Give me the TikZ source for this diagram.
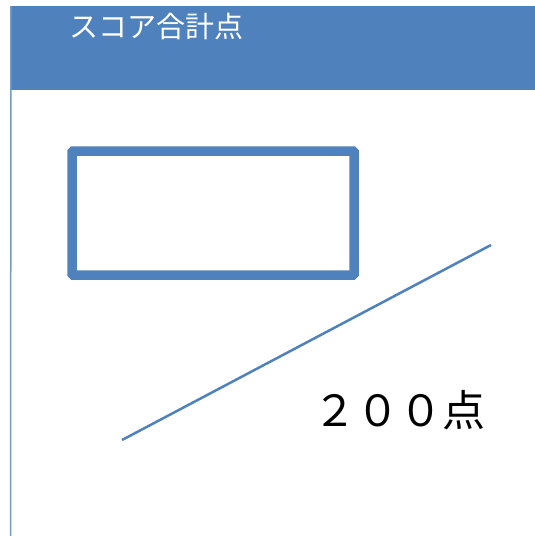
\documentclass[tikz,border=0pt]{standalone}
\usepackage{fontspec}
\newfontfamily\cjk{Noto Sans CJK JP}
\definecolor{officeblue}{HTML}{4F81BD}
\begin{document}
\begin{tikzpicture}[x=1pt, y=-1pt,
  header box/.style={fill=officeblue, inner sep=0pt, anchor=north west},
  score box/.style={draw=officeblue, line width=9.5pt, rounded corners=1pt, inner sep=0pt, minimum width=282pt, minimum height=124pt}]
\tikzstyle{every node}=[font=\cjk]
\useasboundingbox (0,0) rectangle (535,536);

\node[header box, minimum width=524pt, minimum height=84pt] (header) at (11,6) {};
\draw[officeblue!80, line width=1.5pt] (header.north west) -- (10.5,536);
\node[text=white, font=\cjk\fontsize{29}{29}\selectfont, anchor=base west] (title) at (66,37) {スコア合計点};

\node[score box] (box) at (213,213) {};

\coordinate (lo) at (122,440);
\coordinate (hi) at (491,245);
\draw[officeblue, line width=2.5pt] (lo) -- (hi);

\node[font=\cjk\fontsize{43}{43}\selectfont] (score) at (399,410) {２００点};
\end{tikzpicture}
\end{document}
